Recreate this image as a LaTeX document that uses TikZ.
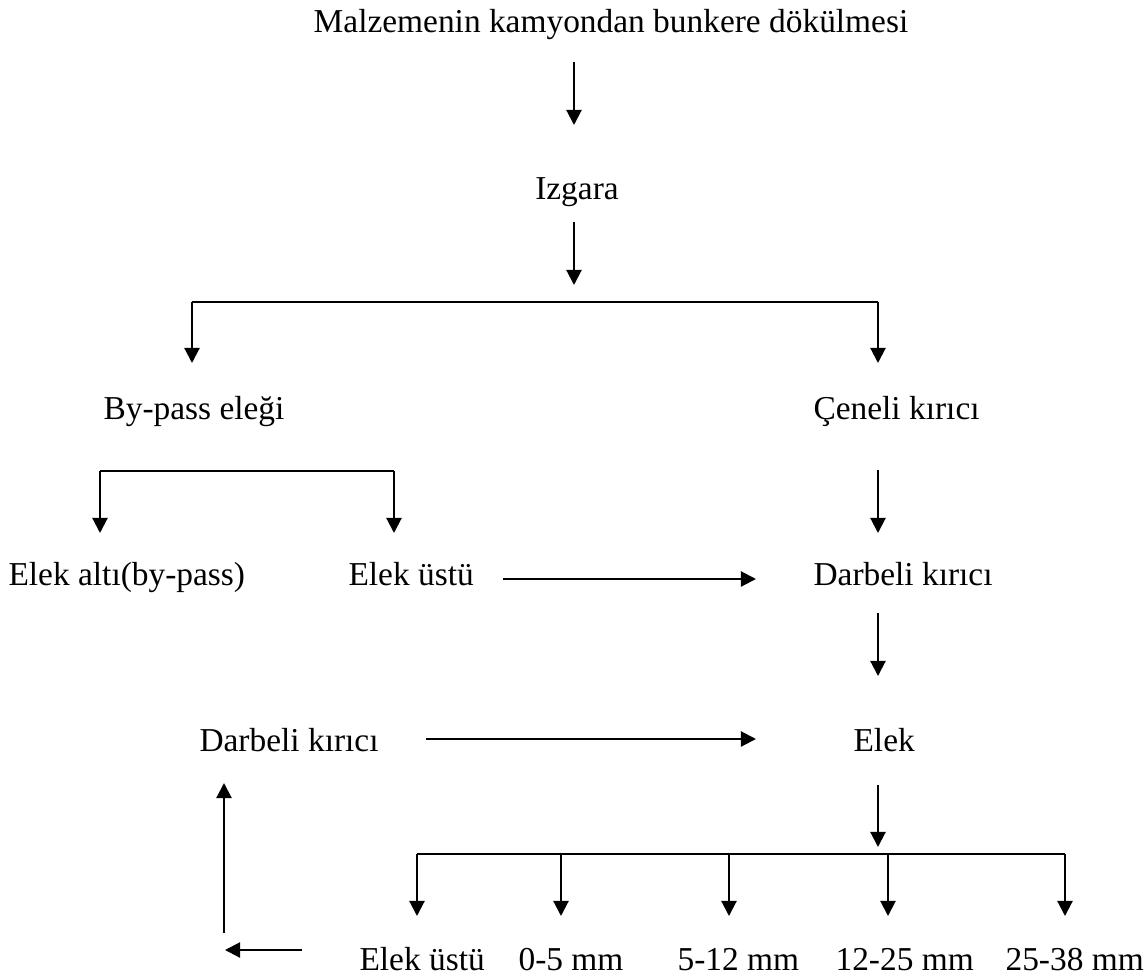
\documentclass[tikz,border=0pt]{standalone}
\usepackage{fontspec}
\setmainfont{Liberation Serif}
\usepackage{tikz}
\usetikzlibrary{arrows.meta}

\begin{document}
\begin{tikzpicture}[x=0.3593pt,y=-0.3593pt,
    lbl/.style={inner sep=0pt,anchor=base west,font=\fontsize{12}{14}\selectfont},
    arr/.style={line width=0.75pt,-{Triangle[length=5.4pt,width=5.4pt]}},
    ln/.style={line width=0.75pt}]
        \useasboundingbox (0,0) rectangle (1147,980);

        % texts
        \node[lbl,anchor=base] (malz) at (611,32) {Malzemenin kamyondan bunkere dökülmesi};
        \node[lbl,anchor=base] (izg) at (577,199) {Izgara};
        \node[lbl] (byp) at (103,419) {By-pass eleği};
        \node[lbl] (cen) at (813,419) {Çeneli kırıcı};
        \node[lbl] (alt) at (8,585) {Elek altı(by-pass)};
        \node[lbl] (ust) at (348,585) {Elek üstü};
        \node[lbl] (darR) at (813,585) {Darbeli kırıcı};
        \node[lbl] (darL) at (199,751) {Darbeli kırıcı};
        \node[lbl] (elek) at (853,751) {Elek};
        \node[lbl] (o1) at (359,970) {Elek üstü};
        \node[lbl] (o2) at (518,970) {0-5 mm};
        \node[lbl] (o3) at (677,970) {5-12 mm};
        \node[lbl] (o4) at (835,970) {12-25 mm};
        \node[lbl] (o5) at (1005,970) {25-38 mm};

        % arrow ends
        \coordinate (m1) at (574,62);  \coordinate (m2) at (574,125);
        \coordinate (i1) at (574,222); \coordinate (i2) at (574,285);
        \coordinate (b1) at (192,302); \coordinate (b2) at (878,302);
        \coordinate (b1e) at (192,363); \coordinate (b2e) at (878,363);
        \coordinate (c1) at (878,470); \coordinate (c2) at (878,533);
        \coordinate (p1) at (100,471); \coordinate (p2) at (394,471);
        \coordinate (p1e) at (100,533); \coordinate (p2e) at (394,533);
        \coordinate (u1) at (503,579); \coordinate (u2) at (756,579);
        \coordinate (d1) at (878,613); \coordinate (d2) at (878,676);
        \coordinate (l1) at (426,739); \coordinate (l2) at (756,739);
        \coordinate (e1) at (878,785); \coordinate (e2) at (878,847);
        \coordinate (r1) at (302,950); \coordinate (r2) at (225,950);
        \coordinate (r3) at (224,933); \coordinate (r4) at (224,783);

        \draw[arr] (m1) -- (m2);
        \draw[arr] (i1) -- (i2);
        \draw[ln] (b1) -- (b2);
        \draw[arr] (b1) -- (b1e);
        \draw[arr] (b2) -- (b2e);
        \draw[arr] (c1) -- (c2);
        \draw[ln] (p1) -- (p2);
        \draw[arr] (p1) -- (p1e);
        \draw[arr] (p2) -- (p2e);
        \draw[arr] (u1) -- (u2);
        \draw[arr] (d1) -- (d2);
        \draw[arr] (l1) -- (l2);
        \draw[arr] (e1) -- (e2);
        \draw[arr] (r1) -- (r2);
        \draw[arr] (r3) -- (r4);

        % sieve outputs
        \draw[ln] (417,854) -- (1065,854);
        \foreach\x in {417,561,729,888,1065}{\draw[arr] (\x,854) -- (\x,916);}
    \end{tikzpicture}
\end{document}
